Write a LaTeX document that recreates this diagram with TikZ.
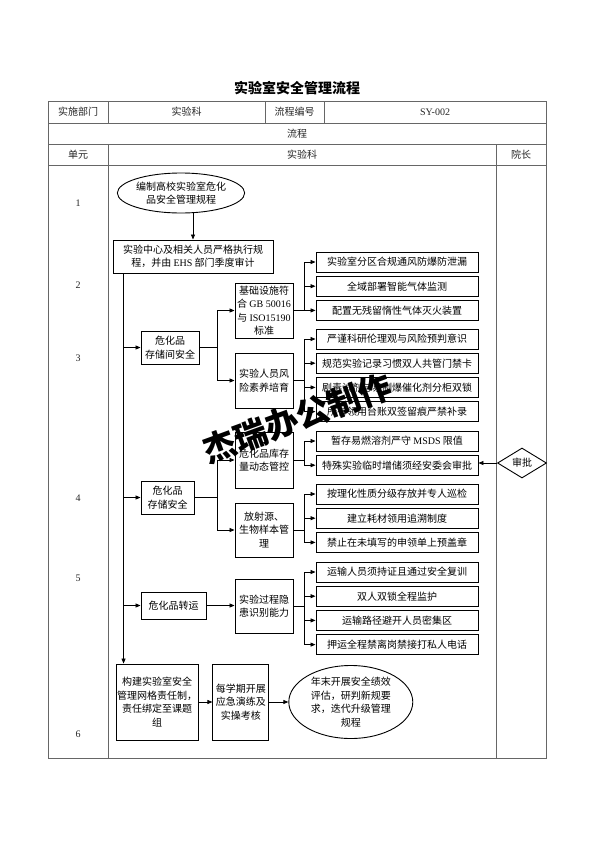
\documentclass[tikz,border=0pt]{standalone}
\usepackage{fontspec}
\setmainfont{Noto Sans CJK SC}
\newfontfamily\enfont{Liberation Serif}
\usetikzlibrary{arrows.meta, positioning, shapes.geometric}
\newcommand{\boxfont}{\fontsize{10}{13.5}\selectfont}

\begin{document}
\begin{tikzpicture}[
      x=1pt, y=-1pt,
      node distance=3.3pt and 14pt,
      box/.style={draw, line width=0.9pt, align=center, inner sep=1pt, font=\boxfont},
      itm/.style={box, minimum width=162pt, minimum height=20pt},
      lvl/.style={box, minimum width=58pt},
      lbl/.style={font=\boxfont, text=black!85, inner sep=1pt},
      tab/.style={draw=black!60, line width=0.9pt},
      ar/.style={-{Triangle[length=5pt, width=4pt]}, line width=0.8pt}
    ]
    \path[use as bounding box, fill=white] (0,0) rectangle (594,841);
    \node[font=\fontsize{14}{16}\selectfont\bfseries] (ttl) at (297,88) {实验室安全管理流程};
    \draw[tab] (48,101) rectangle (546,758);
    \draw[tab] (48,123) -- (546,123) (48,144) -- (546,144) (48,165) -- (546,165);
    \draw[tab] (108,101) -- (108,123) (265,101) -- (265,123) (324,101) -- (324,123);
    \draw[tab] (108,144) -- (108,758) (496,144) -- (496,758);
    \node[lbl] (c1) at (78,112) {实施部门};
    \node[lbl] (c2) at (186.5,112) {实验科};
    \node[lbl] (c3) at (294.5,112) {流程编号};
    \node[lbl] (c4) at (435,112) {\enfont SY-002};
    \node[lbl] (c5) at (297,133.5) {流程};
    \node[lbl] (c6) at (78,154.5) {单元};
    \node[lbl] (c7) at (302,154.5) {实验科};
    \node[lbl] (c8) at (521,154.5) {院长};
    \node[lbl] (u1) at (78,203) {\enfont 1};
    \node[lbl] (u2) at (78,285) {\enfont 2};
    \node[lbl] (u3) at (78,358) {\enfont 3};
    \node[lbl] (u4) at (78,498) {\enfont 4};
    \node[lbl] (u5) at (78,578) {\enfont 5};
    \node[lbl] (u6) at (78,734) {\enfont 6};

    \node[box, ellipse, inner sep=0pt, minimum width=124pt, minimum height=40pt] (st) at (181,193) {编制高校实验室危化\\品安全管理规程};
    \node[box, minimum width=160pt, minimum height=33pt] (exe) at (193,256.5) {实验中心及相关人员严格执行规\\程，并由 {\enfont EHS} 部门季度审计};

    \node[box, minimum width=58pt, minimum height=33pt] (h1) at (170,347.5) {危化品\\存储间安全};
    \node[box, minimum width=53pt, minimum height=33pt] (h2) at (167.5,497.5) {危化品\\存储安全};
    \node[box, minimum width=65pt, minimum height=27pt] (h3) at (173.5,605.5) {危化品转运};

    \node[lvl, minimum height=55pt] (k1) at (264,310.5) {基础设施符\\合 {\enfont GB 50016}\\与 {\enfont ISO15190}\\标准};
    \node[lvl, minimum height=55pt] (k2) at (264,380.5) {实验人员风\\险素养培育};
    \node[lvl, minimum height=56pt] (k3) at (264,460) {危化品库存\\量动态管控};
    \node[lvl, minimum height=54pt] (k4) at (264,530) {放射源、\\生物样本管\\理};
    \node[lvl, minimum height=54pt] (k5) at (264,606) {实验过程隐\\患识别能力};

    \node[itm] (k1a) at (397,262) {实验室分区合规通风防爆防泄漏};
    \node[itm, below=of k1a] (k1b) {全域部署智能气体监测};
    \node[itm, below=of k1b] (k1c) {配置无残留惰性气体灭火装置};
    \node[itm] (k2a) at (397,339) {严谨科研伦理观与风险预判意识};
    \node[itm, below=of k2a] (k2b) {规范实验记录习惯双人共管门禁卡};
    \node[itm, below=of k2b] (k2c) {剧毒试剂与易制爆催化剂分柜双锁};
    \node[itm, below=of k2c] (k2d) {所有领用台账双签留痕严禁补录};
    \node[itm] (k3a) at (397,441) {暂存易燃溶剂严守 {\enfont MSDS} 限值};
    \node[itm, below=of k3a] (k3b) {特殊实验临时增储须经安委会审批};
    \node[itm] (k4a) at (397,494) {按理化性质分级存放并专人巡检};
    \node[itm, below=of k4a] (k4b) {建立耗材领用追溯制度};
    \node[itm, below=of k4b] (k4c) {禁止在未填写的申领单上预盖章};
    \node[itm] (k5a) at (397,572) {运输人员须持证且通过安全复训};
    \node[itm, below=of k5a] (k5b) {双人双锁全程监护};
    \node[itm, below=of k5b] (k5c) {运输路径避开人员密集区};
    \node[itm, below=of k5c] (k5d) {押运全程禁离岗禁接打私人电话};

    \node[box, diamond, aspect=1.6, inner sep=0pt, minimum width=49pt, minimum height=30pt] (sp) at (522,463) {审批};

    \node[box, minimum width=80pt, minimum height=76pt] (g1) at (157,702) {构建实验室安全\\管理网格责任制，\\责任绑定至课题\\组};
    \node[box, minimum width=56pt, minimum height=76pt, right=of g1] (g2) {每学期开展\\应急演练及\\实操考核};
    \node[box, ellipse, inner sep=0pt, minimum width=124pt, minimum height=73pt, right=19pt of g2] (g3) {年末开展安全绩效\\评估，研判新规要\\求，迭代升级管理\\规程};

    \coordinate (t) at ([xshift=11pt]exe.south west);
    \coordinate (f1) at (217,0);
    \coordinate (f2) at (304,0);
    \draw[ar] (exe.north |- st.south) -- (exe.north);
    \draw[ar] (t) -- (t |- g1.north);
    \draw[ar] (t |- h1) -- (h1); \draw[ar] (t |- h2) -- (h2); \draw[ar] (t |- h3) -- (h3);
    \draw (h1) -- (h1 -| f1); \draw[ar] (h1 -| f1) |- (k1); \draw[ar] (h1 -| f1) |- (k2);
    \draw (h2) -- (h2 -| f1); \draw[ar] (h2 -| f1) |- (k3); \draw[ar] (h2 -| f1) |- (k4);
    \draw[ar] (h3) -- (h3 -| k5.west);
    \draw (k1) -- (k1 -| f2); \draw[ar] (k1 -| f2) |- (k1a); \draw[ar] (k1 -| f2) |- (k1b); \draw[ar] (k1 -| f2) |- (k1c);
    \draw (k2) -- (k2 -| f2); \draw[ar] (k2 -| f2) |- (k2a); \draw[ar] (k2 -| f2) |- (k2b); \draw[ar] (k2 -| f2) |- (k2c); \draw[ar] (k2 -| f2) |- (k2d);
    \draw (k3) -- (k3 -| f2); \draw[ar] (k3 -| f2) |- (k3a); \draw[ar] (k3 -| f2) |- (k3b);
    \draw (k4) -- (k4 -| f2); \draw[ar] (k4 -| f2) |- (k4a); \draw[ar] (k4 -| f2) |- (k4b); \draw[ar] (k4 -| f2) |- (k4c);
    \draw (k5) -- (k5 -| f2); \draw[ar] (k5 -| f2) |- (k5a); \draw[ar] (k5 -| f2) |- (k5b); \draw[ar] (k5 -| f2) |- (k5c); \draw[ar] (k5 -| f2) |- (k5d);
    \draw[ar] (sp) -- (sp -| k3b.east);
    \draw[ar] (g1) -- (g2); \draw[ar] (g2) -- (g3);

    \node[rotate=20, font=\fontsize{33}{33}\selectfont\bfseries] (wm) at (297,418) {杰瑞办公制作};
  \end{tikzpicture}
\end{document}
